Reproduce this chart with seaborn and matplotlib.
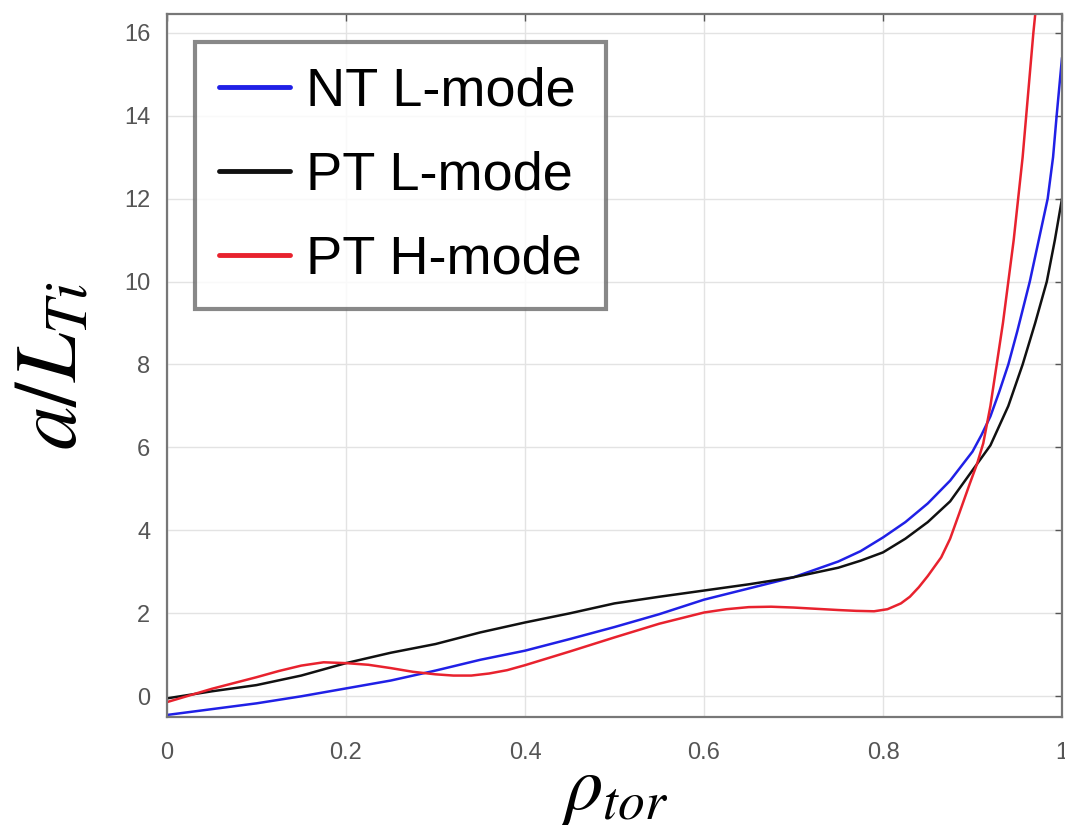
import numpy as np
import pandas as pd
import matplotlib
matplotlib.use("Agg")
import matplotlib.pyplot as plt
import seaborn as sns

# ---- data ----
nt_l_x = [0.0, 0.05, 0.1, 0.15, 0.2, 0.25, 0.3, 0.35, 0.4, 0.45, 0.5, 0.55, 0.6, 0.65,
          0.7, 0.75, 0.775, 0.8, 0.825, 0.85, 0.875, 0.9, 0.91, 0.92, 0.93, 0.94, 0.95,
          0.964, 0.975, 0.984, 0.99, 0.994, 1.0]
nt_l_y = [-0.45, -0.31, -0.17, 0.0, 0.19, 0.38, 0.62, 0.88, 1.1, 1.38, 1.67, 1.98, 2.33, 2.6,
          2.87, 3.25, 3.5, 3.83, 4.2, 4.65, 5.2, 5.9, 6.3, 6.75, 7.35, 8.0, 8.8,
          10.0, 11.1, 12.0, 13.0, 14.0, 15.4]

pt_l_x = [0.0, 0.05, 0.1, 0.15, 0.2, 0.25, 0.3, 0.35, 0.4, 0.45, 0.5, 0.55, 0.6, 0.65,
          0.7, 0.75, 0.775, 0.8, 0.825, 0.85, 0.875, 0.9, 0.92, 0.94, 0.956, 0.97,
          0.983, 0.992, 1.0]
pt_l_y = [-0.05, 0.12, 0.27, 0.5, 0.8, 1.05, 1.26, 1.54, 1.78, 2.0, 2.24, 2.4, 2.55, 2.7,
          2.87, 3.1, 3.27, 3.47, 3.8, 4.2, 4.7, 5.45, 6.05, 7.0, 8.0, 9.0,
          10.0, 11.0, 12.0]

pt_h_x = [0.0, 0.025, 0.05, 0.075, 0.1, 0.125, 0.15, 0.175, 0.2, 0.225, 0.25, 0.275, 0.3,
          0.32, 0.34, 0.36, 0.38, 0.4, 0.45, 0.5, 0.55, 0.6, 0.625, 0.65, 0.675, 0.7,
          0.725, 0.75, 0.77, 0.79, 0.805, 0.82, 0.83, 0.84, 0.85, 0.865, 0.875, 0.885,
          0.897, 0.905, 0.912, 0.92, 0.927, 0.934, 0.94, 0.946, 0.951, 0.956, 0.96,
          0.964, 0.968, 0.975]
pt_h_y = [-0.14, 0.02, 0.18, 0.32, 0.46, 0.61, 0.74, 0.82, 0.8, 0.76, 0.68, 0.59, 0.53,
          0.5, 0.5, 0.55, 0.63, 0.75, 1.08, 1.42, 1.75, 2.02, 2.1, 2.15, 2.16, 2.14,
          2.11, 2.08, 2.06, 2.05, 2.1, 2.24, 2.4, 2.63, 2.9, 3.35, 3.8, 4.4,
          5.13, 5.6, 6.1, 7.0, 8.0, 9.0, 10.0, 11.0, 12.0, 13.0, 14.0,
          15.0, 16.0, 17.5]

series_names = ["NT L-mode", "PT L-mode", "PT H-mode"]
series_colors = ["#2020e6", "#111111", "#e8222e"]
x_ticks = [0, 0.2, 0.4, 0.6, 0.8, 1.0]
x_tick_labels = ["0", "0.2", "0.4", "0.6", "0.8", "1"]
y_ticks = [0, 2, 4, 6, 8, 10, 12, 14, 16]

frames = []
for name, xs, ys in zip(series_names, [nt_l_x, pt_l_x, pt_h_x], [nt_l_y, pt_l_y, pt_h_y]):
    frames.append(pd.DataFrame({"rho": xs, "val": ys, "case": name}))
df = pd.concat(frames, ignore_index=True)

sns.set_style("whitegrid")
plt.rcParams["font.family"] = ["Liberation Sans", "DejaVu Sans"]
plt.rcParams["mathtext.fontset"] = "stix"

fig = plt.figure(figsize=(10.65, 8.3), dpi=100)
ax = fig.add_axes([0.1568, 0.1361, 0.9972 - 0.1568, 0.9831 - 0.1361])

sns.lineplot(data=df, x="rho", y="val", hue="case", hue_order=series_names,
             palette=dict(zip(series_names, series_colors)), estimator=None,
             sort=False, linewidth=1.8, ax=ax)

ax.set_xlim(0, 1)
ax.set_ylim(-0.5, 16.45)
ax.set_xticks(x_ticks)
ax.set_xticklabels(x_tick_labels)
ax.set_yticks(y_ticks)
ax.grid(True, color="#e3e3e3", linewidth=1.0)
ax.tick_params(axis="both", direction="in", top=True, right=True, length=5, width=1,
               color="#555555", labelsize=17, labelcolor="#555555")
ax.tick_params(axis="x", pad=18)
ax.tick_params(axis="y", pad=12)
for s in ax.spines.values():
    s.set_color("#777777")
    s.set_linewidth(1.6)

ax.set_xlabel(r"$\rho_{tor}$", fontsize=55, labelpad=-6, color="black")
ax.set_ylabel(r"$a/L_{Ti}$", fontsize=63, labelpad=22, color="black")

leg = ax.legend(loc="upper left", bbox_to_anchor=(0.031, 0.960), fontsize=39,
                frameon=True, fancybox=False, handlelength=1.3, handletextpad=0.3,
                labelspacing=0.63, borderpad=0.45, borderaxespad=0.0)
leg.get_frame().set_edgecolor("#6a6a6a")
leg.get_frame().set_linewidth(3.0)
for line in leg.get_lines():
    line.set_linewidth(3.5)
for t in leg.get_texts():
    t.set_color("black")

fig.savefig("out.png", dpi=100)
